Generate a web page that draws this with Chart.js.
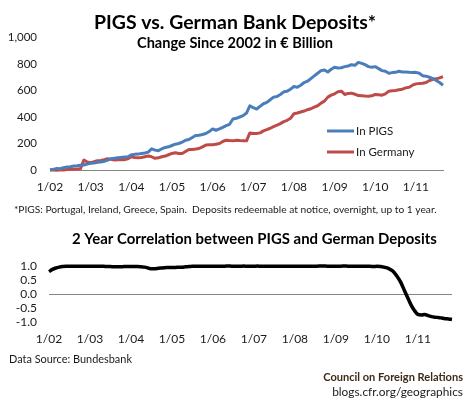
<!DOCTYPE html>
<html><head><meta charset="utf-8">
<script src="https://cdn.jsdelivr.net/npm/chart.js@4.4.1/dist/chart.umd.min.js"></script>
<style>
html,body{margin:0;padding:0;background:#fff;width:470px;height:400px;overflow:hidden}
.box{position:absolute;left:0;width:470px;height:200px}
</style></head><body>
<div class="box" style="top:0"><canvas id="c1"></canvas></div>
<div class="box" style="top:200px"><canvas id="c2"></canvas></div>
<script>
const months = [
'1/02','2/02','3/02','4/02','5/02','6/02','7/02','8/02','9/02','10/02','11/02','12/02',
'1/03','2/03','3/03','4/03','5/03','6/03','7/03','8/03','9/03','10/03','11/03','12/03',
'1/04','2/04','3/04','4/04','5/04','6/04','7/04','8/04','9/04','10/04','11/04','12/04',
'1/05','2/05','3/05','4/05','5/05','6/05','7/05','8/05','9/05','10/05','11/05','12/05',
'1/06','2/06','3/06','4/06','5/06','6/06','7/06','8/06','9/06','10/06','11/06','12/06',
'1/07','2/07','3/07','4/07','5/07','6/07','7/07','8/07','9/07','10/07','11/07','12/07',
'1/08','2/08','3/08','4/08','5/08','6/08','7/08','8/08','9/08','10/08','11/08','12/08',
'1/09','2/09','3/09','4/09','5/09','6/09','7/09','8/09','9/09','10/09','11/09','12/09',
'1/10','2/10','3/10','4/10','5/10','6/10','7/10','8/10','9/10','10/10','11/10','12/10',
'1/11','2/11','3/11','4/11','5/11','6/11','7/11','8/11','9/11','10/11','11/11'];
const tickLabels = ['1/02','1/03','1/04','1/05','1/06','1/07','1/08','1/09','1/10','1/11'];

const pigs = [
0,5,12,10,18,22,25,30,32,35,38,45,
50,52,58,60,65,75,85,88,92,95,98,100,
115,118,120,125,128,135,160,150,145,160,170,175,
185,195,200,210,225,230,245,260,262,268,275,290,
310,300,310,322,335,345,385,390,400,410,430,485,
470,460,480,500,510,530,550,555,570,590,595,610,
630,625,640,660,670,690,710,730,750,755,740,760,
775,770,772,780,785,795,790,812,805,795,780,775,
780,765,750,745,730,735,737,745,740,740,737,735,
737,730,712,708,700,690,675,660,640];
const germany = [
0,0,-2,2,0,3,5,5,8,10,75,60,
55,62,70,72,78,85,80,75,78,80,78,85,
100,95,92,95,100,105,100,88,92,100,105,115,
125,130,125,125,140,155,155,158,162,175,188,190,
190,195,200,215,225,222,220,225,222,220,220,280,
275,275,280,295,305,315,328,338,350,365,375,390,
425,430,438,445,455,462,475,485,505,520,550,565,
575,590,595,570,578,580,572,562,560,558,557,560,
570,568,565,575,595,598,600,605,610,620,625,640,
650,652,655,660,675,685,688,695,705];
const correlation = [
0.80,0.88,0.93,0.96,0.98,0.99,0.99,0.99,0.99,0.99,0.99,0.99,
0.99,0.99,0.99,0.99,0.99,0.98,0.98,0.97,0.97,0.97,0.98,0.98,
0.98,0.98,0.98,0.97,0.96,0.93,0.90,0.90,0.92,0.93,0.94,0.95,
0.95,0.95,0.96,0.96,0.97,0.98,0.99,0.99,0.99,0.99,0.99,0.99,
0.99,0.99,0.99,0.99,1.00,1.00,0.99,0.99,0.99,1.00,0.99,0.99,
0.99,1.00,0.99,0.99,0.99,0.99,0.99,0.99,0.99,0.99,0.99,0.99,
0.99,0.99,0.99,0.99,0.99,0.99,0.99,1.00,1.00,1.00,0.99,0.99,
0.99,0.99,1.00,1.00,0.99,0.99,0.99,0.99,0.99,0.99,0.99,0.98,
0.99,0.98,0.96,0.93,0.87,0.78,0.62,0.42,0.15,-0.12,-0.38,-0.58,
-0.72,-0.74,-0.72,-0.76,-0.80,-0.82,-0.83,-0.85,-0.87,-0.88,-0.90];

const seriesNames = ['In PIGS','In Germany'];
const FONT = 'Lato';

function fitText(ctx, txt, x, y, w, weight, align, color){
  ctx.save();
  ctx.font = weight + ' 20px ' + FONT;
  const m = ctx.measureText(txt).width;
  const fs = 20 * w / m;
  ctx.font = weight + ' ' + fs.toFixed(2) + 'px ' + FONT;
  ctx.fillStyle = color;
  ctx.textAlign = align;
  ctx.textBaseline = 'alphabetic';
  ctx.fillText(txt, x, y);
  ctx.restore();
}

const topDeco = {
  id: 'topDeco',
  afterDraw(chart){
    const ctx = chart.ctx;
    fitText(ctx, 'PIGS vs. German Bank Deposits*', 94, 28.5, 282, 'bold', 'left', '#000');
    fitText(ctx, 'Change Since 2002 in \u20AC Billion', 137, 48.3, 196, 'bold', 'left', '#000');
    const ys = [131, 152];
    chart.data.datasets.forEach((ds, i) => {
      const y = ys[i];
      ctx.save();
      ctx.strokeStyle = ds.borderColor; ctx.lineWidth = 3;
      ctx.beginPath(); ctx.moveTo(327, y); ctx.lineTo(354, y); ctx.stroke();
      ctx.fillStyle = '#1a1a1a';
      ctx.font = '11.5px ' + FONT;
      ctx.textBaseline = 'middle'; ctx.textAlign = 'left';
      ctx.fillText(ds.label, 356, y + 0.5);
      ctx.restore();
    });
  }
};

const bottomDeco = {
  id: 'bottomDeco',
  afterDraw(chart){
    const ctx = chart.ctx;
    fitText(ctx, '*PIGS: Portugal, Ireland, Greece, Spain.  Deposits redeemable at notice, overnight, up to 1 year.', 14, 13, 423, 'normal', 'left', '#1a1a1a');
    fitText(ctx, '2 Year Correlation between PIGS and German Deposits', 72, 44, 365, 'bold', 'left', '#000');
    fitText(ctx, 'Data Source: Bundesbank', 9, 162.7, 123, 'normal', 'left', '#1a1a1a');
    fitText(ctx, 'Council on Foreign Relations', 463, 180.7, 140, 'bold', 'right', '#3d2a17');
    fitText(ctx, 'blogs.cfr.org/geographics', 463, 196, 131, 'normal', 'right', '#1a1a1a');
  }
};

const xTickCb = function(v){ const l = this.getLabelForValue(v); return tickLabels.includes(l) ? l : ''; };

new Chart(document.getElementById('c1'), {
  type: 'line',
  data: {
    labels: months.slice(0, pigs.length),
    datasets: [
      {label: seriesNames[0], data: pigs, borderColor: '#4A7EBB', borderWidth: 3, pointRadius: 0, tension: 0, borderJoinStyle: 'round', clip: false},
      {label: seriesNames[1], data: germany, borderColor: '#BE4B48', borderWidth: 3, pointRadius: 0, tension: 0, borderJoinStyle: 'round', clip: false}
    ]
  },
  options: {
    responsive: true, maintainAspectRatio: false, animation: false,
    layout: {padding: {top: 37.5, right: 27, left: 0, bottom: 0}},
    plugins: {legend: {display: false}, tooltip: {enabled: false}},
    scales: {
      x: {type: 'category', offset: false,
          grid: {display: false, drawTicks: false},
          border: {display: true, color: '#868686', width: 1},
          ticks: {autoSkip: false, maxRotation: 0, minRotation: 0, padding: 10, color: '#1a1a1a', font: {family: FONT, size: 12}, callback: xTickCb},
          afterFit: s => { s.height = 30; }},
      y: {min: 0, max: 1000,
          grid: {display: false, drawTicks: false},
          border: {display: false},
          ticks: {autoSkip: false, stepSize: 200, padding: 13, color: '#1a1a1a', font: {family: FONT, size: 11.5}, callback: v => v.toLocaleString('en-US')},
          afterFit: s => { s.width = 50; }}
    }
  },
  plugins: [topDeco]
});

new Chart(document.getElementById('c2'), {
  type: 'line',
  data: {
    labels: months.slice(0, correlation.length),
    datasets: [
      {label: 'Correlation', data: correlation, borderColor: '#000', borderWidth: 3.5, pointRadius: 0, tension: 0.3, cubicInterpolationMode: 'monotone', borderJoinStyle: 'round', clip: false}
    ]
  },
  options: {
    responsive: true, maintainAspectRatio: false, animation: false,
    layout: {padding: {top: 66, right: 18, left: 0, bottom: 0}},
    plugins: {legend: {display: false}, tooltip: {enabled: false}},
    scales: {
      x: {type: 'category', offset: false,
          grid: {display: false, drawTicks: false},
          border: {display: false},
          ticks: {autoSkip: false, maxRotation: 0, minRotation: 0, padding: 10, color: '#1a1a1a', font: {family: FONT, size: 12}, callback: xTickCb},
          afterFit: s => { s.height = 77.7; }},
      y: {min: -1, max: 1,
          grid: {drawTicks: false, lineWidth: 1, color: c => (c.tick && c.tick.value === 0) ? '#868686' : 'rgba(0,0,0,0)'},
          border: {display: false},
          ticks: {autoSkip: false, stepSize: 0.5, padding: 12, color: '#1a1a1a', font: {family: FONT, size: 12}, callback: v => v.toFixed(1)},
          afterFit: s => { s.width = 49; }}
    }
  },
  plugins: [bottomDeco]
});
</script></body></html>
